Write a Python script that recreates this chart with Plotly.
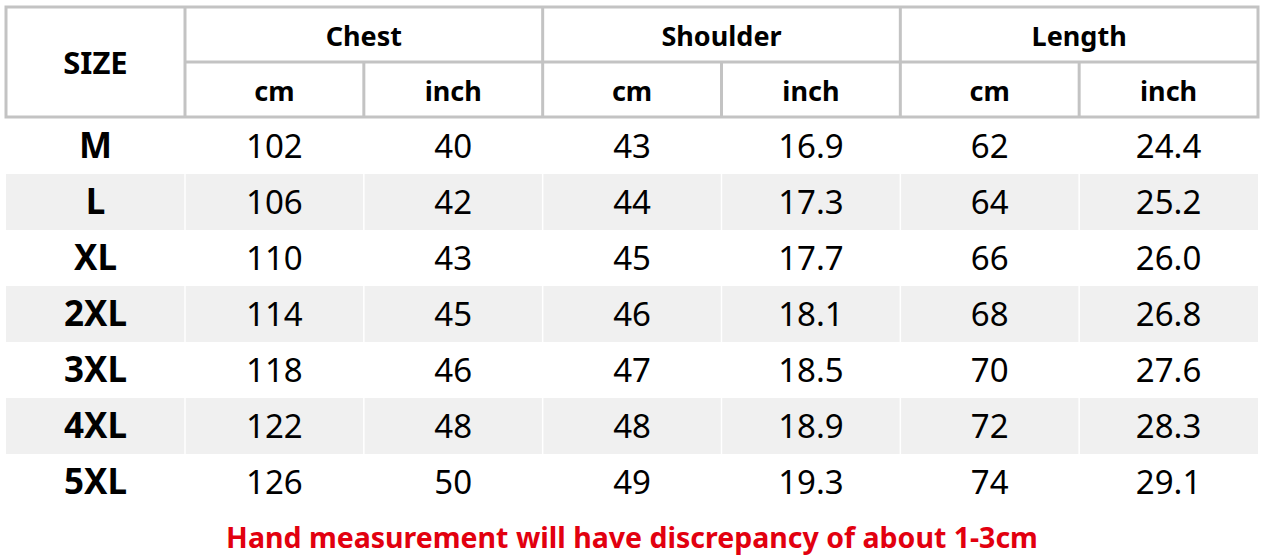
import plotly.graph_objects as go

# size chart data
sizes = ["M", "L", "XL", "2XL", "3XL", "4XL", "5XL"]
groups = ["Chest", "Shoulder", "Length"]
units = ["cm", "inch"]

chest_cm = [102, 106, 110, 114, 118, 122, 126]
chest_inch = [40, 42, 43, 45, 46, 48, 50]
shoulder_cm = [43, 44, 45, 46, 47, 48, 49]
shoulder_inch = [16.9, 17.3, 17.7, 18.1, 18.5, 18.9, 19.3]
length_cm = [62, 64, 66, 68, 70, 72, 74]
length_inch = [24.4, 25.2, 26.0, 26.8, 27.6, 28.3, 29.1]

note = "Hand measurement will have discrepancy of about 1-3cm"

# layout in page pixels
W, H = 1264, 557
LEFT, RIGHT = 6, 1258
SIZE_W = 179
TOP, MID, HEAD_BOTTOM = 7, 62, 117
ROW_H = 56
DY = 4.5  # plotly text sits a little high, nudge down
BORDER = "#c3c3c3"
STRIPE = "#f0f0f0"
FONT = "Noto Sans"

col_w = (RIGHT - LEFT - SIZE_W) / 6
edges = [LEFT, LEFT + SIZE_W] + [LEFT + SIZE_W + col_w * i for i in range(1, 7)]
centers = [(edges[i] + edges[i + 1]) / 2 for i in range(7)]
row_y = [HEAD_BOTTOM + ROW_H * (i + 0.5) + DY for i in range(len(sizes))]

columns = [
    [str(v) for v in chest_cm],
    [str(v) for v in chest_inch],
    [str(v) for v in shoulder_cm],
    [f"{v:.1f}" for v in shoulder_inch],
    [str(v) for v in length_cm],
    [f"{v:.1f}" for v in length_inch],
]

fig = go.Figure()
shapes = []

# striped rows
for i in range(len(sizes)):
    if i % 2 == 1:
        y0 = HEAD_BOTTOM + ROW_H * i + 1
        y1 = y0 + ROW_H
        shapes.append(dict(type="rect", x0=LEFT, x1=RIGHT, y0=y0, y1=y1,
                           fillcolor=STRIPE, line_width=0, layer="below"))
        for x in edges[1:-1]:
            shapes.append(dict(type="line", x0=x, x1=x, y0=y0, y1=y1,
                               line=dict(color="white", width=1.5), layer="below"))

# header grid
line = dict(color=BORDER, width=3)
shapes.append(dict(type="rect", x0=LEFT, x1=RIGHT, y0=TOP, y1=HEAD_BOTTOM, line=line))
shapes.append(dict(type="line", x0=edges[1], x1=RIGHT, y0=MID, y1=MID, line=line))
for k, x in enumerate(edges[1:-1]):
    y_start = TOP if k % 2 == 0 else MID
    shapes.append(dict(type="line", x0=x, x1=x, y0=y_start, y1=HEAD_BOTTOM, line=line))

# header texts
fig.add_trace(go.Scatter(
    x=[centers[0]], y=[(TOP + HEAD_BOTTOM) / 2 + DY], text=["SIZE"], mode="text",
    textfont=dict(family=FONT, size=31, color="#000000", weight="bold"),
    hoverinfo="skip", showlegend=False,
))
fig.add_trace(go.Scatter(
    x=[(centers[1 + 2 * g] + centers[2 + 2 * g]) / 2 for g in range(len(groups))],
    y=[(TOP + MID) / 2 + DY] * len(groups), text=groups, mode="text",
    textfont=dict(family=FONT, size=27, color="#000000", weight="bold"),
    hoverinfo="skip", showlegend=False,
))
fig.add_trace(go.Scatter(
    x=centers[1:], y=[(MID + HEAD_BOTTOM) / 2 + DY] * 6, text=units * 3, mode="text",
    textfont=dict(family=FONT, size=27, color="#000000", weight="bold"),
    hoverinfo="skip", showlegend=False,
))

# size labels
fig.add_trace(go.Scatter(
    x=[centers[0]] * len(sizes), y=row_y, text=sizes, mode="text",
    textfont=dict(family=FONT, size=35, color="#000000", weight="bold"),
    hoverinfo="skip", showlegend=False,
))

# values
for c, vals in enumerate(columns):
    fig.add_trace(go.Scatter(
        x=[centers[c + 1]] * len(vals), y=row_y, text=vals, mode="text",
        textfont=dict(family=FONT, size=33, color="#000000"),
        hoverinfo="skip", showlegend=False,
    ))

# footnote
fig.add_trace(go.Scatter(
    x=[632], y=[536 + DY], text=[note], mode="text",
    textfont=dict(family=FONT, size=28.5, color="#e2000f", weight="bold"),
    hoverinfo="skip", showlegend=False,
))

fig.update_layout(
    width=W,
    height=H,
    margin=dict(l=0, r=0, t=0, b=0),
    paper_bgcolor="white",
    plot_bgcolor="white",
    shapes=shapes,
    xaxis=dict(range=[0, W], visible=False, fixedrange=True),
    yaxis=dict(range=[H, 0], visible=False, fixedrange=True),
)

fig.write_html(
    "out.html",
    config={"displayModeBar": False},
    post_script="document.body.style.margin='0';document.body.style.overflow='hidden';",
)
